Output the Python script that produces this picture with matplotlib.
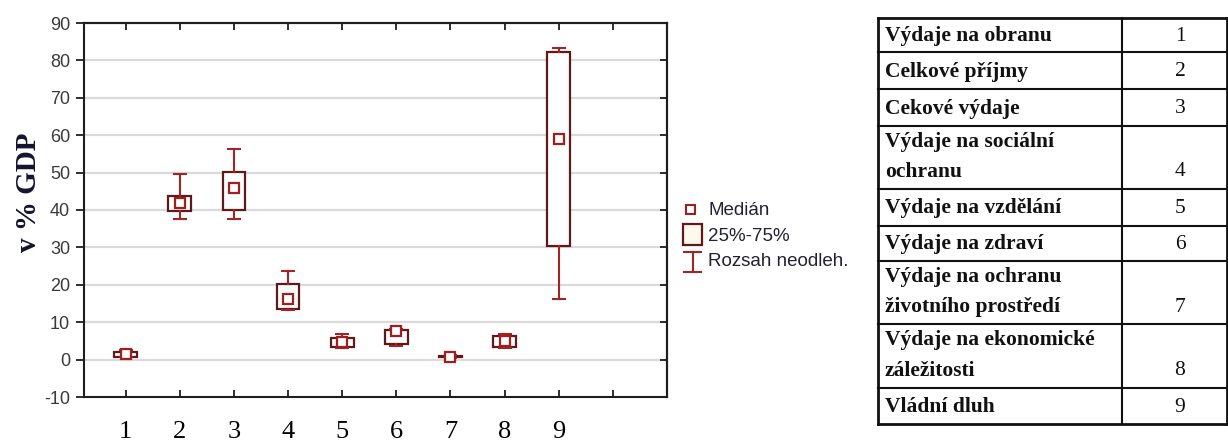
import matplotlib
matplotlib.use("Agg")
import matplotlib.pyplot as plt
from matplotlib.patches import Rectangle
from matplotlib.lines import Line2D

# ---------------- data ----------------
positions = [1, 2, 3, 4, 5, 6, 7, 8, 9]
tick_labels = ["1", "2", "3", "4", "5", "6", "7", "8", "9", ""]
medians = [1.6, 42.0, 46.0, 16.3, 4.6, 7.6, 0.8, 5.0, 59.1]
q1 = [0.8, 39.8, 40.0, 13.5, 3.3, 4.3, 0.6, 3.3, 30.4]
q3 = [2.0, 43.8, 50.1, 20.3, 5.9, 7.8, 1.0, 6.4, 82.3]
whis_lo = [0.7, 37.5, 37.5, 13.3, 3.2, 3.6, 0.5, 3.1, 16.1]
whis_hi = [2.5, 49.5, 56.3, 23.7, 6.8, 8.2, 1.1, 6.8, 83.2]

legend_labels = ["Medián", "25%-75%", "Rozsah neodleh."]
ylabel = "v % GDP"

table_names = [
    "Výdaje na obranu",
    "Celkové příjmy",
    "Cekové výdaje",
    "Výdaje na sociální\nochranu",
    "Výdaje na vzdělání",
    "Výdaje na zdraví",
    "Výdaje na ochranu\nživotního prostředí",
    "Výdaje na ekonomické\nzáležitosti",
    "Vládní dluh",
]
table_numbers = ["1", "2", "3", "4", "5", "6", "7", "8", "9"]

# ---------------- style ----------------
BOX_C = "#5e1a1a"
WHIS_C = "#a32424"
MED_C = "#a01e1e"
W, H = 1228, 443

fig = plt.figure(figsize=(W / 100, H / 100), dpi=100)
fig.patch.set_facecolor("white")

# main axes (pixel box: x 84..667, y 23..397)
ax = fig.add_axes([84 / W, (H - 397) / H, (667 - 84) / W, (397 - 23) / H])
ax.set_xlim(0.23, 11.0)
ax.set_ylim(-10, 90)
ax.set_yticks(range(-10, 91, 10))
ax.set_xticks(range(1, 11))
ax.set_xticklabels(tick_labels, family="Liberation Serif", fontsize=19)
ax.set_yticklabels([str(v) for v in range(-10, 91, 10)],
                   family="Liberation Sans", fontsize=13, color="#3a3a3a")
for y in range(0, 90, 10):
    ax.axhline(y, color="#dadada", lw=1.6, zorder=0)

for s in ax.spines.values():
    s.set_linewidth(1.5)
    s.set_color("#1e1e1e")

ax.tick_params(axis="y", direction="out", length=6, width=1.3, pad=4, color="#1e1e1e")
ax.tick_params(axis="x", direction="in", length=5, width=1.3, pad=17, color="#1e1e1e")
sec_r = ax.secondary_yaxis("right")
sec_r.set_yticks(range(-10, 91, 10))
sec_r.tick_params(direction="in", length=5, width=1.3, labelright=False, color="#1e1e1e")
sec_r.spines["right"].set_linewidth(1.5)
sec_t = ax.secondary_xaxis("top")
sec_t.set_xticks(range(1, 11))
sec_t.tick_params(direction="in", length=5, width=1.3, labeltop=False, color="#1e1e1e")
sec_t.spines["top"].set_linewidth(1.5)

stats = []
for m, a, b, lo, hi in zip(medians, q1, q3, whis_lo, whis_hi):
    stats.append(dict(med=m, q1=a, q3=b, whislo=lo, whishi=hi, fliers=[]))

ax.bxp(stats, positions=positions, widths=0.42, capwidths=0.22,
       showfliers=False, patch_artist=True,
       boxprops=dict(facecolor="white", edgecolor=BOX_C, linewidth=1.6),
       whiskerprops=dict(color=WHIS_C, linewidth=1.5),
       capprops=dict(color=WHIS_C, linewidth=1.5),
       medianprops=dict(linestyle="none"),
       manage_ticks=False)
ax.plot(positions, medians, linestyle="none", marker="s", markersize=7,
        markerfacecolor="white", markeredgecolor=MED_C, markeredgewidth=1.6, zorder=5)

# y label
fig.text(28 / W, 1 - 192 / H, ylabel, rotation=90, ha="center", va="center",
         family="Liberation Serif", fontweight="bold", fontsize=21, color="#141430")

# overlay axes in pixel coordinates for legend & table
ov = fig.add_axes([0, 0, 1, 1], facecolor="none")
ov.set_xlim(0, W)
ov.set_ylim(H, 0)
ov.axis("off")

# legend
ov.add_patch(Rectangle((686, 205), 9, 9, facecolor="white", edgecolor=MED_C, lw=1.5))
ov.add_patch(Rectangle((683, 224), 19, 21, facecolor="#fff8ec", edgecolor=BOX_C, lw=1.6))
ov.add_line(Line2D([692.5, 692.5], [252, 272], color=WHIS_C, lw=1.5))
ov.add_line(Line2D([684, 701], [252, 252], color=WHIS_C, lw=1.5))
ov.add_line(Line2D([684, 701], [272, 272], color=WHIS_C, lw=1.5))
for txt, yy in zip(legend_labels, [210, 236, 262]):
    ov.text(708, yy, txt, ha="left", va="center", family="Liberation Sans",
            fontsize=13.5, color="#222233")

# table
row_lines = [18.3, 52.3, 89.3, 125.7, 189, 225.7, 261, 324.3, 387.7, 424.3]
x_left, x_mid, x_right = 878, 1122, 1227
for i, yy in enumerate(row_lines):
    lw = 2.0 if i in (0, len(row_lines) - 1) else 1.5
    ov.add_line(Line2D([x_left, x_right], [yy, yy], color="#111111", lw=lw))
ov.add_line(Line2D([x_left, x_left], [row_lines[0], row_lines[-1]], color="#111111", lw=2.0))
ov.add_line(Line2D([x_mid, x_mid], [row_lines[0], row_lines[-1]], color="#111111", lw=1.5))
ov.add_line(Line2D([x_right, x_right], [row_lines[0], row_lines[-1]], color="#111111", lw=2.0))

for i, (name, num) in enumerate(zip(table_names, table_numbers)):
    top, bot = row_lines[i], row_lines[i + 1]
    lines = name.split("\n")
    if len(lines) == 1:
        yc = (top + bot) / 2 + 1
        ov.text(885, yc, lines[0], ha="left", va="center", family="Liberation Serif",
                fontweight="bold", fontsize=15.5, color="#111111")
        ov.text(1180, yc, num, ha="center", va="center", family="Liberation Serif",
                fontsize=15.5, color="#111111")
    else:
        y1, y2 = top + 16, bot - 17
        ov.text(885, y1, lines[0], ha="left", va="center", family="Liberation Serif",
                fontweight="bold", fontsize=15.5, color="#111111")
        ov.text(885, y2, lines[1], ha="left", va="center", family="Liberation Serif",
                fontweight="bold", fontsize=15.5, color="#111111")
        ov.text(1180, y2, num, ha="center", va="center", family="Liberation Serif",
                fontsize=15.5, color="#111111")

fig.savefig("out.png", dpi=100, facecolor="white")
